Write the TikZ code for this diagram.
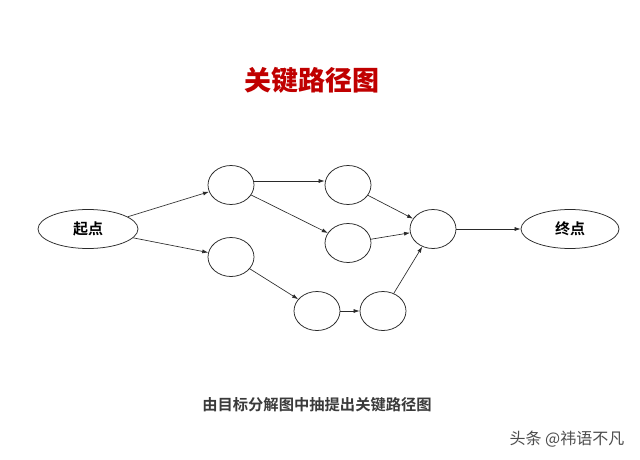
\documentclass[tikz,border=0pt]{standalone}
\usepackage{fontspec}
\usetikzlibrary{shapes.geometric,arrows.meta}
\newfontfamily\cjk{Noto Sans CJK SC}
\newfontfamily\cjkb{Noto Sans CJK SC Bold}
\newfontfamily\cjkbl{Noto Sans CJK SC Black}
\definecolor{titlered}{HTML}{C00000}
\definecolor{capgray}{HTML}{3A3A3A}
\definecolor{edgegray}{HTML}{2A2A2A}
\tikzset{
  ev/.style={ellipse, draw=edgegray, line width=0.75pt, inner sep=0pt, minimum width=46pt, minimum height=39pt},
  term/.style={ellipse, draw=edgegray, line width=0.75pt, inner sep=0pt, minimum width=100pt, minimum height=39pt, font=\cjkb\fontsize{15pt}{15pt}\selectfont},
  arr/.style={draw=edgegray, line width=0.65pt, -{Latex[length=6pt,width=4pt]}}
}
\begin{document}
\begin{tikzpicture}[x=1pt,y=-1pt]
\useasboundingbox[fill=white] (0,0) rectangle (640,460);
\node[font=\cjkbl\fontsize{27pt}{27pt}\selectfont, text=titlered] (title) at (312,80) {关键路径图};
\node[term] (start) at (88,229) {起点};
\node[term, minimum width=98pt] (end) at (570,229) {终点};
\node[ev] (a) at (231,185) {};
\node[ev] (b) at (231,257) {};
\node[ev] (c) at (348,185) {};
\node[ev] (d) at (348,243) {};
\node[ev] (e) at (317,311) {};
\node[ev] (f) at (383,311) {};
\node[ev] (g) at (433,229) {};
\draw[arr] (start) -- (a);
\draw[arr] (start) -- (b);
\draw[arr] (a.east |- 0,181) -- (c.west |- 0,181);
\draw[arr] (a) -- (d);
\draw[arr] (b) -- (e);
\draw[arr] (c) -- (g);
\draw[arr] (d) -- (g);
\draw[arr] (e) -- (f);
\draw[arr] (f) -- (g);
\draw[arr] (g) -- (end);
\node[font=\cjkb\fontsize{15.3pt}{15.3pt}\selectfont, text=capgray] (cap) at (317,405) {由目标分解图中抽提出关键路径图};
\node[font=\cjk\fontsize{16pt}{16pt}\selectfont, text=black!70] (wm) at (567,439) {头条 @祎语不凡};
\end{tikzpicture}
\end{document}
